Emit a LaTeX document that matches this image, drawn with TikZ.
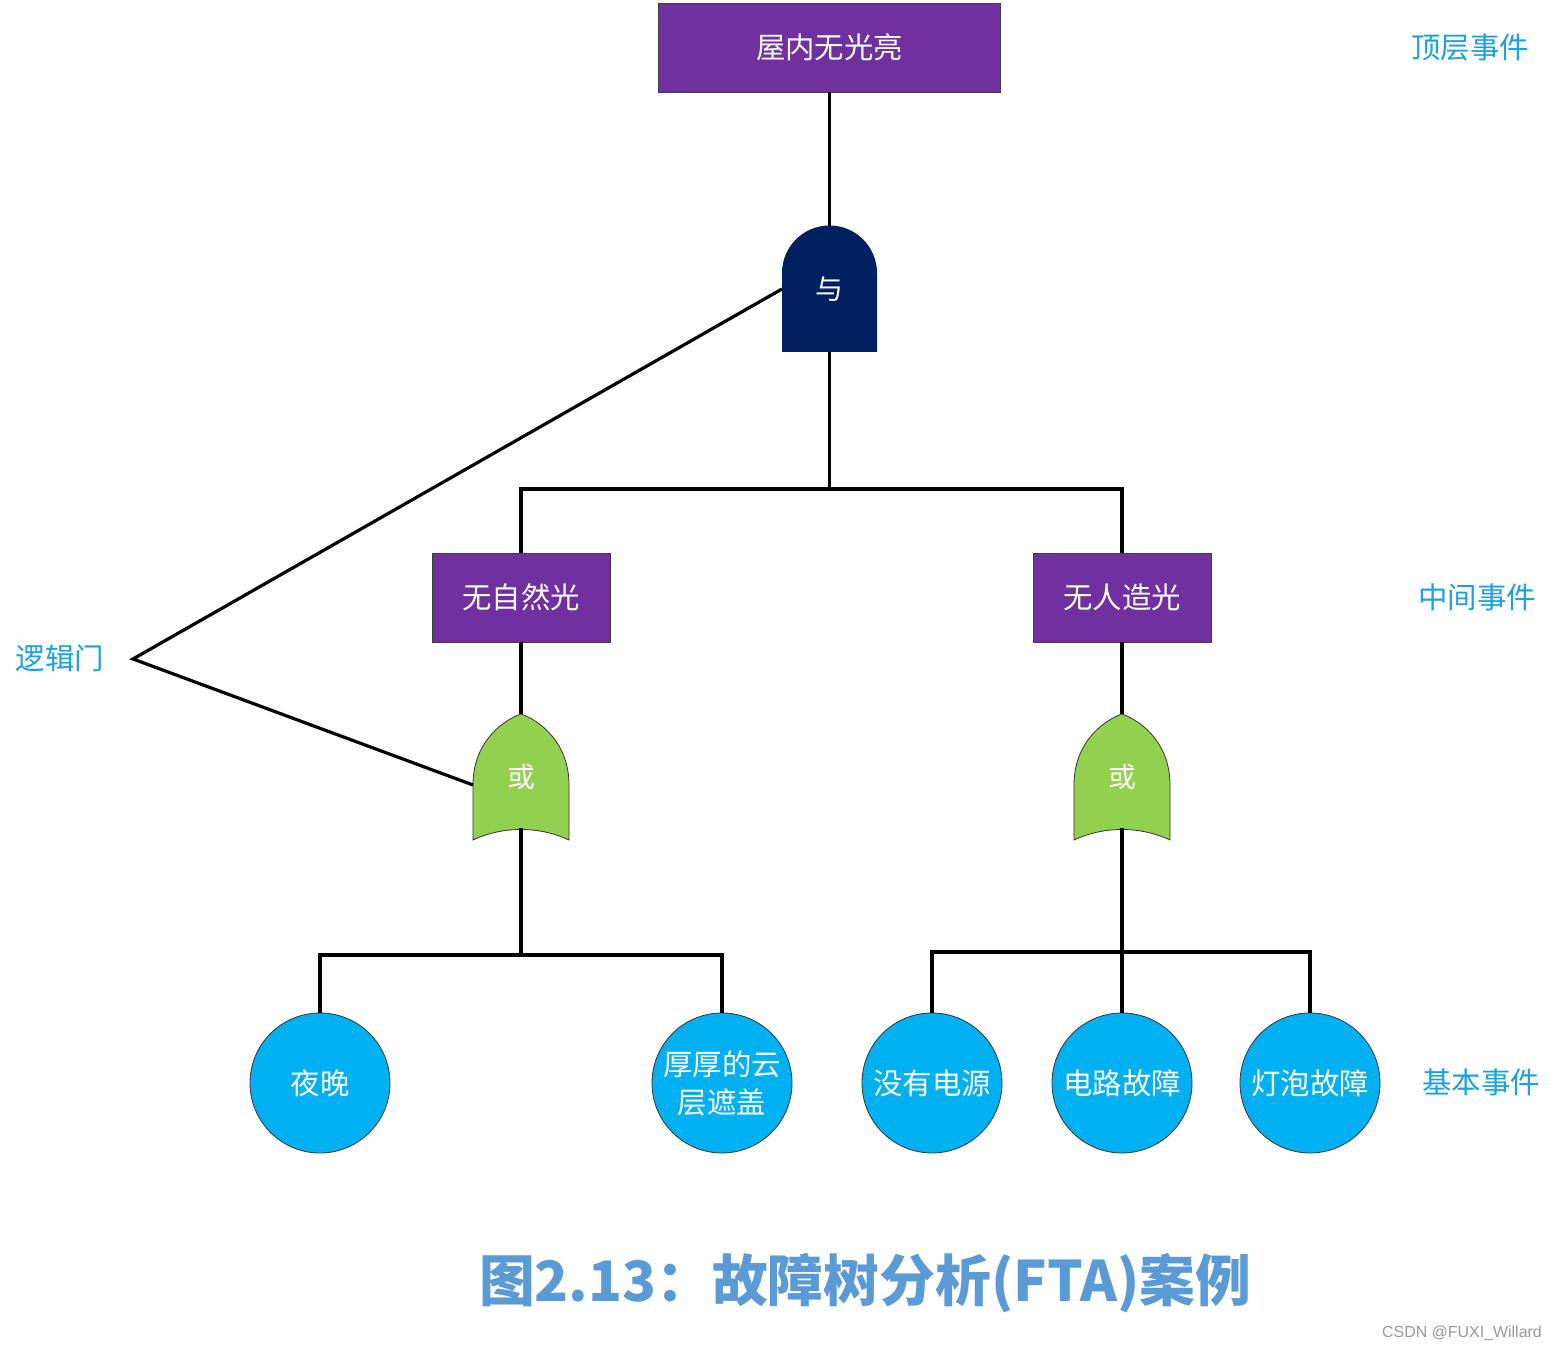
\documentclass[tikz,border=0pt]{standalone}
\usepackage{fontspec}
\setmainfont{Noto Sans CJK SC}
\newfontfamily\markfont{Liberation Sans}
\usetikzlibrary{backgrounds}
\definecolor{eventpurple}{HTML}{7030A0}
\definecolor{andnavy}{HTML}{002060}
\definecolor{orgreen}{HTML}{92D050}
\definecolor{basicblue}{HTML}{00B0F0}
\definecolor{levelblue}{HTML}{1BA1DD}
\definecolor{titleblue}{HTML}{5B9BD5}

% OR gate outline, drawn from the corners of an empty node
\newcommand{\orgateshape}[1]{%
  \filldraw[fill=orgreen,draw=black!80,line width=0.8bp]
    (#1.south west)
    .. controls +(30,14) and +(-30,14) ..
    (#1.south east) -- ++(0,55)
    .. controls +(0,40) and +(22,-8) ..
    (#1.north)
    .. controls +(-22,-8) and +(0,40) ..
    ([yshift=55bp]#1.south west) -- cycle;}

\begin{document}
\begin{tikzpicture}[x=1bp,y=1bp,
  wire/.style={line width=3.2bp},
  event/.style={rectangle,draw=black!75,line width=0.8bp,fill=eventpurple,
    text=white,minimum width=178bp,minimum height=89bp,
    font=\fontsize{29.5}{33}\selectfont},
  basic/.style={circle,draw=black!80,line width=0.8bp,fill=basicblue,
    text=white,minimum size=140bp,inner sep=0pt,align=center,
    font=\fontsize{29.5}{38}\selectfont},
  gatebox/.style={rectangle,minimum width=95bp,minimum height=126bp,
    inner sep=0pt,outer sep=0pt,text=white,
    font=\fontsize{28}{30}\selectfont},
  level/.style={text=levelblue,font=\fontsize{29.5}{32}\selectfont}]

\useasboundingbox (0,0) rectangle (1558,1351);

% Top event
\node[event,minimum width=342bp]
  (top) at (829.5,1303.5) {屋内无光亮};

% AND gate
\node[gatebox]
  (andg) at (829.5,1062) {与};

% Intermediate events
\node[event]
  (nat) at (521,753.5) {无自然光};

\node[event]
  (art) at (1122,753.5) {无人造光};

% OR gates
\node[gatebox,minimum width=96bp]
  (orl) at (521,574) {或};

\node[gatebox,minimum width=96bp]
  (orr) at (1122,574) {或};

% Basic events
\node[basic]
  (night) at (320,268) {夜晚};

\node[basic]
  (cloud) at (722,268) {厚厚的云\\层遮盖};

\node[basic]
  (nopower) at (932,268) {没有电源};

\node[basic]
  (circuit) at (1122,268) {电路故障};

\node[basic]
  (bulb) at (1310,268) {灯泡故障};

% Gate bodies behind their labels
\begin{scope}[on background layer]
  \fill[andnavy]
    (andg.south west) -- (andg.south east) -- ++(0,79)
    arc[start angle=0,end angle=180,radius=47.5bp] -- cycle;
  \orgateshape{orl}
  \orgateshape{orr}
\end{scope}

% Connections of the tree
\coordinate (split1) at (831,862);
\coordinate (split2) at (521,396);
\coordinate (split3) at (1122,399);

\draw[wire]
  (top) -- (andg);

\draw[wire]
  (andg.south) -- (andg.south |- split1);

\draw[wire]
  (nat.north) |- (split1) -| (art.north);

\draw[wire]
  (nat) -- (orl);

\draw[wire]
  (art) -- (orr);

\draw[wire]
  ([yshift=12bp]orl.south) -- (split2);

\draw[wire]
  (night.north) |- (split2) -| (cloud.north);

\draw[wire]
  ([yshift=12bp]orr.south) -- (circuit.north);

\draw[wire]
  (nopower.north) |- (split3) -| (bulb.north);

% Pointer to the two kinds of gate
\node[level]
  (gatelabel) at (60,693) {逻辑门};

\coordinate (apex) at (133,692);

\draw[wire]
  (andg.west) -- (apex) -- ([yshift=-8bp]orl.west);

% Level names on the right
\node[level]
  (toplevel) at (1470,1304) {顶层事件};

\node[level]
  (midlevel) at (1477,754) {中间事件};

\node[level]
  (baselevel) at (1481,269) {基本事件};

% Caption and mark
\node[text=titleblue,font=\fontsize{56}{60}\bfseries\selectfont]
  (title) at (865,68) {图2.13：故障树分析(FTA)案例};

\node[text=black!40,font=\markfont\fontsize{16}{18}\selectfont]
  (mark) at (1462,18) {CSDN @FUXI\_Willard};

\end{tikzpicture}
\end{document}
